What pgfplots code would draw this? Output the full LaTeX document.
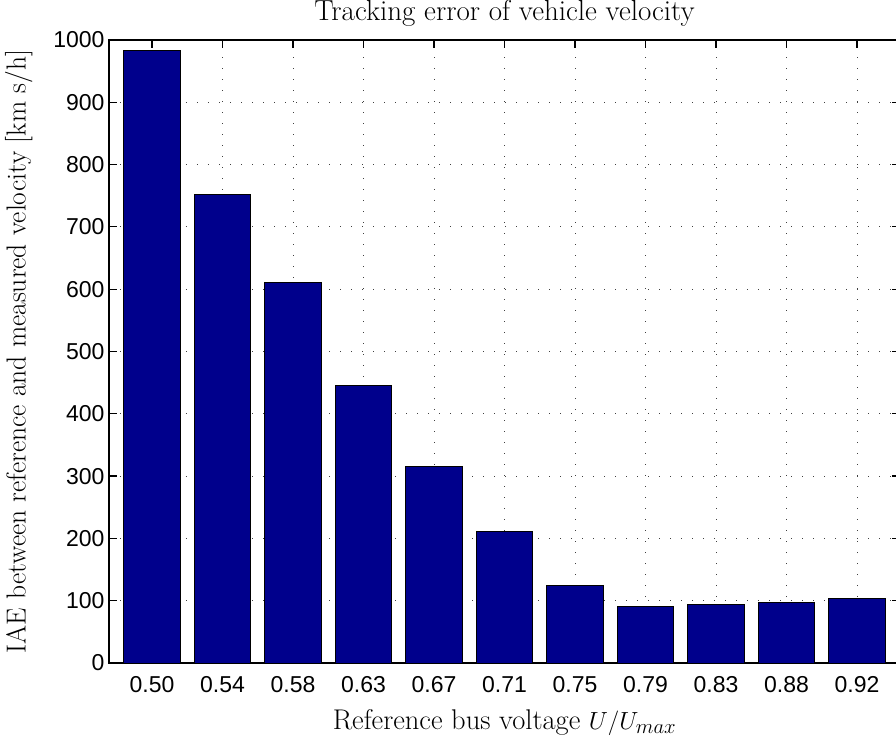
\documentclass[border=0pt]{standalone}
\usepackage{fontspec}
\usepackage{pgfplots}
\pgfplotsset{compat=1.18}
\newfontfamily\arialf{Liberation Sans}
\definecolor{barblue}{RGB}{0,0,140}
\begin{document}
\begin{tikzpicture}
\begin{axis}[
  name=ax,
  scale only axis,
  width=791bp, height=623bp,
  xmin=-0.61, xmax=10.61,
  ymin=0, ymax=1000,
  ytick={0,100,...,1000},
  xtick={0,...,10},
  xticklabels={0.50,0.54,0.58,0.63,0.67,0.71,0.75,0.79,0.83,0.88,0.92},
  /pgf/number format/assume math mode=true,
  /pgf/number format/1000 sep={},
  ticklabel style={font=\arialf\fontsize{23bp}{27bp}\selectfont},
  xticklabel style={yshift=-10bp},
  yticklabel style={xshift=-1bp},
  axis line style={line width=1.5bp, black},
  major tick length=8bp,
  tick style={line width=1.2bp, black},
  grid=major,
  grid style={line width=0.9bp, black!75, dash pattern=on 1bp off 10bp},
  title={Tracking error of vehicle velocity},
  title style={font=\fontsize{29bp}{32bp}\selectfont, at={(axis description cs:0.5,1.0305)}, anchor=base, yshift=-6pt, inner sep=0pt},
  xlabel={Reference bus voltage $U/U_{max}$},
  xlabel style={font=\fontsize{28.5bp}{32bp}\selectfont, at={(axis description cs:0.5,-0.1075)}, anchor=base},
  ylabel={IAE between reference and measured velocity [km s/h]},
  ylabel style={font=\fontsize{27.5bp}{31bp}\selectfont, at={(axis description cs:-0.1055,0.5)}, anchor=base},
]
\addplot[ybar, bar width=0.8, fill=barblue, draw=black, line width=1bp] coordinates {
(0,983) (1,752) (2,610) (3,446) (4,315) (5,211) (6,124) (7,91) (8,94) (9,97) (10,104)
};
\end{axis}
\pgfresetboundingbox
\path (ax.south west) ++(-109bp,-81bp) rectangle ++(896bp,744bp);
\end{tikzpicture}
\end{document}
